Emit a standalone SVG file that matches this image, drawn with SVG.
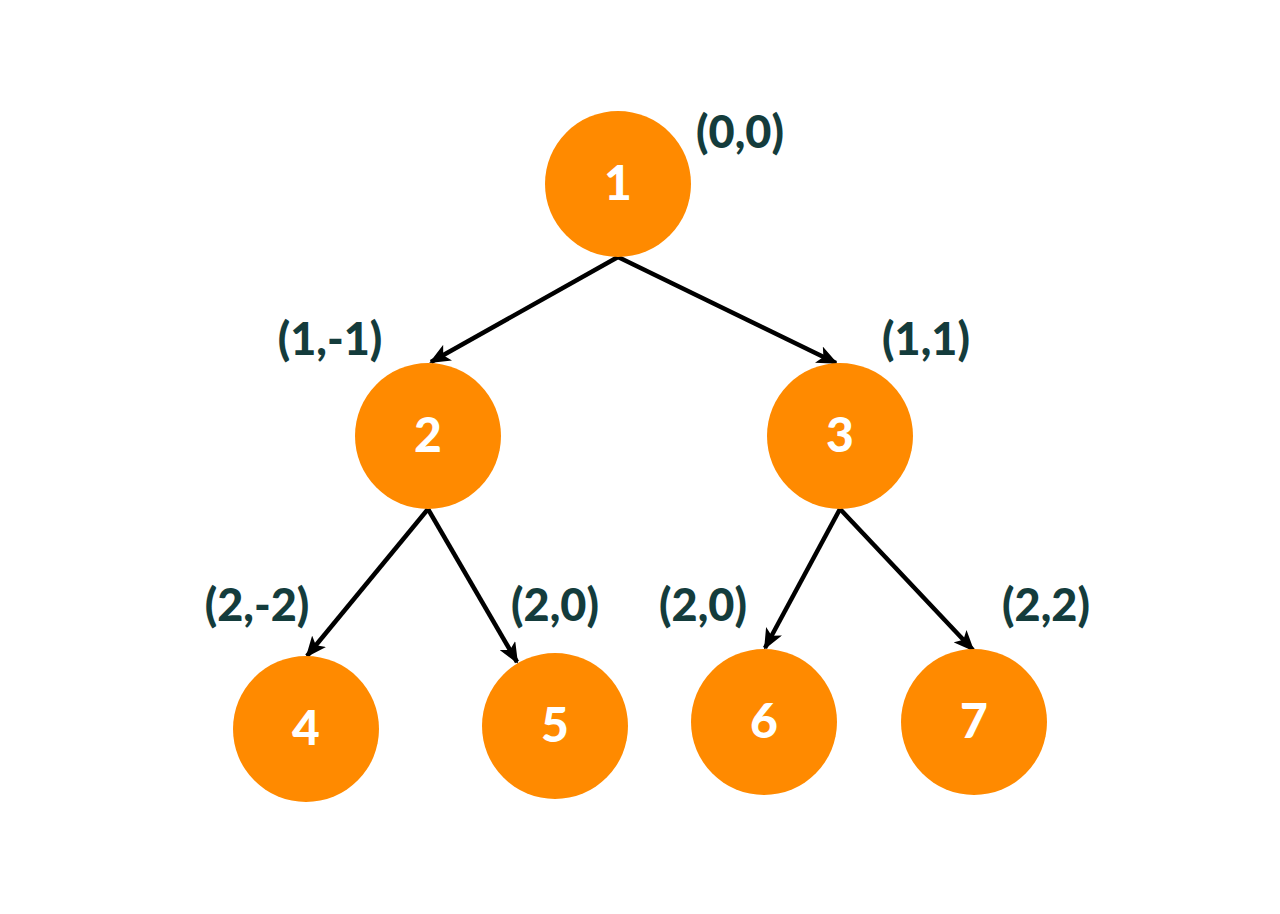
<svg xmlns="http://www.w3.org/2000/svg" width="1280" height="914" viewBox="0 0 1280 914">
<style>
.node circle{fill:#FF8A00}
.node text{fill:#fff;font-family:Lato,"Open Sans","Liberation Sans",sans-serif;font-weight:900;font-size:48px;text-anchor:middle}
.lbl{fill:#143c3c;font-family:Lato,"Open Sans","Liberation Sans",sans-serif;font-weight:900;font-size:45px;text-anchor:middle}
.edge{stroke:#000;stroke-width:4.5;fill:none;marker-end:url(#arr)}
</style>
<defs>
<marker id="arr" markerWidth="22" markerHeight="18" refX="19" refY="9" orient="auto" markerUnits="userSpaceOnUse">
<path d="M0,0 L21,9 L0,18 L5,9 Z" fill="#000"/>
</marker>
</defs>
<rect width="1280" height="914" fill="#fff"/>
<g id="connectors">
<line class="edge" x1="618" y1="257" x2="431" y2="362"/>
<line class="edge" x1="618" y1="257" x2="836" y2="363"/>
<line class="edge" x1="428" y1="509" x2="307" y2="656"/>
<line class="edge" x1="428" y1="509" x2="517" y2="662"/>
<line class="edge" x1="840" y1="509" x2="765" y2="648"/>
<line class="edge" x1="840" y1="509" x2="973" y2="650"/>
</g>
<g id="node1" class="node"><circle cx="618" cy="184" r="73"/><text x="618" y="200">1</text></g>
<g id="node2" class="node"><circle cx="428" cy="436" r="73"/><text x="428" y="452">2</text></g>
<g id="node3" class="node"><circle cx="840" cy="436" r="73"/><text x="840" y="452">3</text></g>
<g id="node4" class="node"><circle cx="306" cy="729" r="73"/><text x="306" y="745">4</text></g>
<g id="node5" class="node"><circle cx="555" cy="726" r="73"/><text x="555" y="742">5</text></g>
<g id="node6" class="node"><circle cx="764" cy="722" r="73"/><text x="764" y="738">6</text></g>
<g id="node7" class="node"><circle cx="974" cy="722" r="73"/><text x="974" y="738">7</text></g>
<g id="labels">
<text class="lbl" x="740" y="148">(0,0)</text>
<text class="lbl" x="330" y="355">(1,-1)</text>
<text class="lbl" x="926" y="355">(1,1)</text>
<text class="lbl" x="257" y="621">(2,-2)</text>
<text class="lbl" x="555" y="621">(2,0)</text>
<text class="lbl" x="703" y="621">(2,0)</text>
<text class="lbl" x="1046" y="621">(2,2)</text>
</g>
</svg>
